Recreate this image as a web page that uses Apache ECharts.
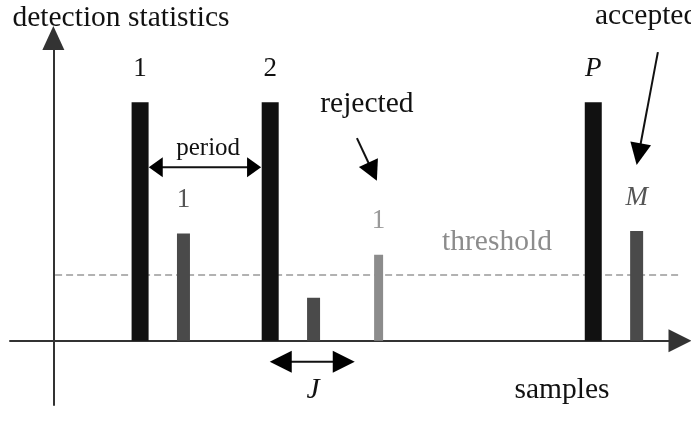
<!DOCTYPE html>
<html>
<head>
<meta charset="utf-8">
<script src="https://cdn.jsdelivr.net/npm/echarts@6/dist/echarts.min.js"></script>
<style>
  html, body { margin: 0; background: #fff; }
  #main { width: 691px; height: 432px; }
</style>
</head>
<body>
<div id="main"></div>
<script>
// peaks of the detection statistic (sample index, height), black = pilot peaks
const sampleIdx = [20, 30, 50, 60, 75, 124.5, 134.5];
const statValues = [100, 45, 100, 18, 36, 100, 46];
const peakLabels = ['1', '1', '2', '', '1', 'P', 'M'];
const peakKinds = ['peak', 'echo', 'peak', 'echo', 'rejected', 'peak', 'echo'];
const thresholdValue = 27.5;
const xRange = [-10, 144.5];
const yRange = [-27, 127];

const FAMILY = '"Liberation Serif", "Times New Roman", serif';
const kindStyle = {
  peak:     { w: 17, fill: '#111111', text: '#111111' },
  echo:     { w: 13, fill: '#4a4a4a', text: '#555555' },
  rejected: { w: 9,  fill: '#8c8c8c', text: '#999999' }
};
const italic = ['P', 'M', 'J'];

function font(t, size) {
  return (italic.indexOf(t) >= 0 ? 'italic ' : '') + size + 'px ' + FAMILY;
}

// annotations in data coordinates
const notes = [
  { text: 'detection statistics', at: [15.6, 135.2] },
  { text: 'accepted', at: [124.9, 136.2], align: 'left' },
  { text: 'rejected', at: [72.3, 99.2] },
  { text: 'period', at: [35.7, 80.8], size: 25 },
  { text: 'threshold', at: [102.3, 41.4], color: '#8c8c8c' },
  { text: 'J', at: [59.9, -20.7] },
  { text: 'samples', at: [117.3, -20.8] }
];
const arrows = [
  { from: [22, 72.8], to: [47.9, 72.8], both: true, head: [14, 20] },
  { from: [49.9, -8.9], to: [69.5, -8.9], both: true, head: [22, 22] },
  { from: [70, 85], to: [74.6, 67.1], head: [20, 21] },
  { from: [139.4, 121.1], to: [134.5, 73.7], head: [22, 21] }
];

var myChart = echarts.init(document.getElementById('main'));

var option = {
  animation: false,
  grid: { left: 10, right: 11, top: 38, bottom: 27 },
  xAxis: {
    type: 'value', min: xRange[0], max: xRange[1],
    axisLine: { onZero: true, symbol: ['none', 'triangle'], symbolSize: [23, 23],
      lineStyle: { color: '#333', width: 2 } },
    axisTick: { show: false }, axisLabel: { show: false }, splitLine: { show: false }
  },
  yAxis: {
    type: 'value', min: yRange[0], max: yRange[1],
    axisLine: { onZero: true, symbol: ['none', 'triangle'], symbolSize: [22, 24],
      lineStyle: { color: '#333', width: 2 } },
    axisTick: { show: false }, axisLabel: { show: false }, splitLine: { show: false }
  },
  series: [
    {
      type: 'line',
      z: 1,
      symbol: 'none',
      silent: true,
      lineStyle: { color: '#999', width: 1.5, type: [7, 4] },
      data: [[0.4, thresholdValue], [xRange[1], thresholdValue]]
    },
    {
      type: 'custom',
      z: 3,
      clip: false,
      data: sampleIdx.map(function (x, i) { return [x, statValues[i], i]; }),
      encode: { x: 0, y: 1 },
      renderItem: function (params, api) {
        var i = api.value(2);
        var st = kindStyle[peakKinds[i]];
        var base = api.coord([api.value(0), 0]);
        var top = api.coord([api.value(0), api.value(1)]);
        return {
          type: 'group',
          children: [
            { type: 'rect',
              shape: { x: base[0] - st.w / 2, y: top[1], width: st.w, height: base[1] - top[1] },
              style: { fill: st.fill } },
            { type: 'text', x: top[0], y: top[1] - 20,
              style: { text: peakLabels[i], fill: st.text, font: font(peakLabels[i], 27),
                align: 'center', verticalAlign: 'bottom' } }
          ]
        };
      }
    }
  ]
};

myChart.setOption(option);

// text and arrows on top, placed through the chart's scales
function px(p) { return myChart.convertToPixel({ gridIndex: 0 }, p); }

var els = [];
notes.forEach(function (n) {
  var p = px(n.at);
  els.push({
    type: 'text', x: p[0], y: p[1], z: 10,
    style: { text: n.text, fill: n.color || '#111', font: font(n.text, n.size || 29.5),
      align: n.align || 'center', verticalAlign: 'middle' }
  });
});

function head(tip, ux, uy, len, wid) {
  var bx = tip[0] - ux * len, by = tip[1] - uy * len;
  return {
    type: 'polygon', z: 10,
    shape: { points: [tip, [bx - uy * wid / 2, by + ux * wid / 2], [bx + uy * wid / 2, by - ux * wid / 2]] },
    style: { fill: '#000' }
  };
}

arrows.forEach(function (a) {
  var p1 = px(a.from), p2 = px(a.to);
  var dx = p2[0] - p1[0], dy = p2[1] - p1[1];
  var d = Math.sqrt(dx * dx + dy * dy);
  var ux = dx / d, uy = dy / d;
  var len = a.head[0], wid = a.head[1];
  var s = a.both ? [p1[0] + ux * len * 0.8, p1[1] + uy * len * 0.8] : p1;
  var e = [p2[0] - ux * len * 0.8, p2[1] - uy * len * 0.8];
  els.push({ type: 'line', z: 10, shape: { x1: s[0], y1: s[1], x2: e[0], y2: e[1] },
    style: { stroke: '#111', lineWidth: 2 } });
  els.push(head(p2, ux, uy, len, wid));
  if (a.both) els.push(head(p1, -ux, -uy, len, wid));
});

myChart.setOption({ graphic: els });
</script>
</body>
</html>
